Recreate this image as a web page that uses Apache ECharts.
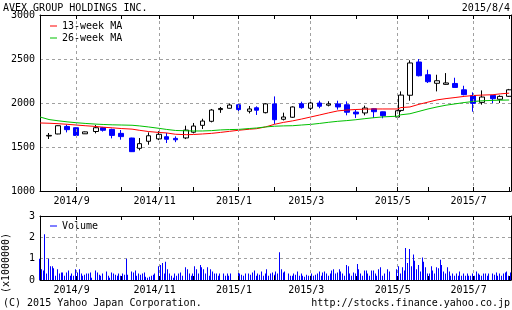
<!DOCTYPE html>
<html><head><meta charset="utf-8">
<script src="https://cdn.jsdelivr.net/npm/echarts@6/dist/echarts.min.js"></script>
<style>html,body{margin:0;padding:0;background:#fff}#c{width:512px;height:310px}</style>
</head><body><div id="c"></div>
<script>
// ---- data ----
const startDate = '2014-08-04';
const endDate = '2015-08-04';
const holidays = ['2014-09-15','2014-09-23','2014-10-13','2014-11-03','2014-11-24','2014-12-23','2014-12-31',
  '2015-01-01','2015-01-02','2015-01-12','2015-02-11','2015-04-29','2015-05-04','2015-05-05','2015-05-06','2015-07-20'];
const candleDates = ['2014-08-11','2014-08-18','2014-08-25','2014-09-01','2014-09-08','2014-09-16','2014-09-22','2014-09-29',
  '2014-10-06','2014-10-14','2014-10-20','2014-10-27','2014-11-04','2014-11-10','2014-11-17','2014-11-25','2014-12-01',
  '2014-12-08','2014-12-15','2014-12-22','2014-12-29','2015-01-05','2015-01-13','2015-01-19','2015-01-26','2015-02-02',
  '2015-02-09','2015-02-16','2015-02-23','2015-03-02','2015-03-09','2015-03-16','2015-03-23','2015-03-30','2015-04-06',
  '2015-04-13','2015-04-20','2015-04-27','2015-05-07','2015-05-11','2015-05-18','2015-05-25','2015-06-01','2015-06-08',
  '2015-06-15','2015-06-22','2015-06-29','2015-07-06','2015-07-13','2015-07-21','2015-07-27','2015-08-03'];
// [open, close, low, high]
const ohlc = [
  [1625,1632,1591,1659],[1648,1742,1645,1745],[1734,1697,1666,1753],[1719,1632,1630,1722],[1650,1672,1648,1676],
  [1676,1719,1655,1750],[1720,1690,1675,1728],[1700,1632,1598,1708],[1655,1618,1583,1693],[1602,1447,1443,1605],
  [1485,1538,1462,1602],[1565,1628,1526,1666],[1592,1644,1578,1680],[1617,1588,1545,1660],[1598,1582,1555,1621],
  [1603,1692,1590,1742],[1668,1738,1655,1773],[1746,1795,1705,1821],[1792,1920,1780,1932],[1925,1938,1888,1955],
  [1940,1977,1938,1995],[1980,1925,1893,1982],[1906,1932,1882,1966],[1946,1918,1864,1962],[1890,1990,1882,1998],
  [1990,1810,1762,2075],[1815,1841,1802,1890],[1838,1955,1830,1962],[1992,1947,1935,2015],[1940,2000,1920,2030],
  [2000,1963,1940,2026],[1975,1990,1962,2020],[1990,1955,1925,2026],[1980,1895,1860,2018],[1897,1876,1830,1924],
  [1887,1943,1860,1970],[1935,1901,1830,1938],[1900,1856,1826,1903],[1840,1912,1826,1924],[1916,2090,1900,2132],
  [2088,2455,2026,2485],[2466,2310,2302,2500],[2321,2242,2227,2378],[2224,2253,2132,2321],[2212,2228,2208,2340],
  [2222,2177,2175,2287],[2150,2095,2087,2196],[2083,1996,1901,2121],[2007,2068,1981,2143],[2087,2049,2000,2090],
  [2042,2075,2000,2087],[2076,2150,2070,2160]];
const maDates = ['2014-08-04'].concat(candleDates);
const ma13 = [1773,1770,1765,1758,1750,1742,1733,1725,1718,1710,1703,1690,1676,1665,1660,1645,1640,1642,1648,1655,
  1666,1678,1690,1702,1708,1728,1758,1780,1797,1818,1841,1864,1888,1910,1920,1926,1930,1932,1932,1932,1948,1955,
  1985,2010,2035,2050,2062,2075,2085,2090,2094,2104,2112];
const ma26 = [1841,1812,1798,1786,1776,1768,1760,1756,1752,1750,1747,1740,1728,1712,1700,1688,1684,1682,1682,1686,
  1694,1698,1700,1710,1716,1728,1736,1740,1742,1750,1757,1768,1781,1792,1800,1810,1822,1833,1842,1850,1866,1878,
  1905,1932,1955,1975,1990,2005,2017,2025,2030,2032,2034];
// daily volume (x1,000,000), grouped by week, trading days only
const volumeByWeek = [
  [1.0,0.5,0.45,2.15,0.3],[1.0,0.65,0.65,0.55,0.2],[0.5,0.3,0.35,0.35,0.2],[0.35,0.45,0.2,0.3,0.2],
  [0.5,0.35,0.5,0.3,0.2],[0.25,0.3,0.3,0.35,0.1],[0.45,0.35,0.25,0.2],[0.3,0.4,0.2,0.1,0.2],
  [0.35,0.3,0.25,0.2,0.3],[0.2,0.3,0.25,1.0,0.25],[0.4,0.35,0.45,0.2],[0.3,0.25,0.3,0.35,0.15],
  [0.1,0.15,0.2,0.25,0.3],[0.65,0.7,0.8,0.3],[0.85,0.5,0.3,0.2,0.1],[0.3,0.2,0.3,0.35,0.2],
  [0.6,0.5,0.3,0.2],[0.3,0.65,0.5,0.3,0.7],[0.6,0.5,0.3,0.6,0.2],[0.5,0.4,0.3,0.3,0.2],
  [0.3,0.3,0.2,0.3],[0.2,0.3],[0.35,0.3,0.25,0.2,0.3],[0.3,0.25,0.35,0.45],
  [0.2,0.3,0.25,0.4,0.2],[0.3,0.5,0.2,0.3,0.35],[0.25,0.4,0.3,1.3,0.5],[0.35,0.4,0.3,0.2],
  [0.2,0.3,0.25,0.4,0.2],[0.3,0.2,0.15,0.25,0.2],[0.2,0.3,0.2,0.25,0.3],[0.4,0.2,0.35,0.4,0.3],
  [0.2,0.3,0.45,0.5,0.3],[0.35,0.5,0.4,0.3,0.2],[0.7,0.65,0.3,0.2,0.35],[0.3,0.75,0.5,0.3,0.2],
  [0.45,0.45,0.3,0.2,0.45],[0.45,0.3,0.2,0.5,0.6],[0.2,0.3,0.5,0.4],[0.5,0.65],
  [0.3,0.6,0.45,1.5,0.8],[1.45,0.65,1.2,0.9,0.5],[0.7,0.4,1.05,0.85,0.6],[0.3,0.3,0.65,0.45,0.3],
  [0.6,0.55,0.95,0.7,0.4],[0.3,0.6,0.4,0.2,0.3],[0.2,0.3,0.2,0.4,0.2],[0.3,0.2,0.3,0.2,0.2],
  [0.3,0.2,0.4,0.3,0.25],[0.2,0.3,0.3,0.2,0.3],[0.3,0.25,0.35,0.2],[0.3,0.2,0.3,0.35,0.4],[0.2,0.35]];
const monthTickDates = ['2014-09-01','2014-10-06','2014-11-04','2014-12-01','2015-01-05','2015-02-02',
  '2015-03-02','2015-04-06','2015-05-07','2015-06-01','2015-07-06','2015-08-03'];
const monthTickLabels = ['2014/9','','2014/11','','2015/1','','2015/3','','2015/5','','2015/7',''];
const priceTicks = {min:1000, max:3000, interval:500};
const volTicks = {min:0, max:3, interval:1};

// ---- build ----
const DAY = 86400000;
const fmt = t => new Date(t).toISOString().slice(0,10);
const t0 = Date.parse(startDate + 'T00:00:00Z'), t1 = Date.parse(endDate + 'T00:00:00Z');
const categories = [];
for (let t = t0; t <= t1; t += DAY) { const wd = new Date(t).getUTCDay(); if (wd !== 0 && wd !== 6) categories.push(fmt(t)); }
const idx = {}; categories.forEach((c,i)=>idx[c]=i);
const hol = new Set(holidays);
const tickSet = new Set(monthTickDates);
const labelMap = {}; monthTickDates.forEach((d,i)=>{ if (monthTickLabels[i]) labelMap[d] = monthTickLabels[i]; });
const candleData = candleDates.map((d,i)=>[idx[d]].concat(ohlc[i]));
const ma13Data = maDates.map((d,i)=>[idx[d], ma13[i]]);
const ma26Data = maDates.map((d,i)=>[idx[d], ma26[i]]);
const volData = [];
volumeByWeek.forEach((vals,k)=>{
  const days = [];
  for (let j=0;j<5;j++){ const t = t0 + (7*k + j)*DAY; const s = fmt(t); if (t <= t1 && !hol.has(s)) days.push(s); }
  vals.forEach((v,j)=>{ if (days[j]) volData.push([idx[days[j]], v]); });
});

const FONT = '"DejaVu Sans Mono", "Liberation Mono", monospace';
const dash = {show:true, interval:(i,v)=>!!labelMap[v], lineStyle:{color:'#a0a0a0', type:[3,3], width:1}};
const tick = {show:true, inside:true, length:4, interval:(i,v)=>tickSet.has(v), lineStyle:{color:'#000'}};
const mkX = (grid, pos, withLabel) => ({
  type:'category', gridIndex:grid, position:pos, data:categories, boundaryGap:false, z:5,
  axisLine:{show:true, onZero:false, lineStyle:{color:'#000', width:1}},
  axisTick:tick,
  axisLabel: withLabel ? {show:true, interval:(i,v)=>!!labelMap[v], formatter:v=>labelMap[v]||'', color:'#000',
    fontFamily:FONT, fontSize:10, margin:5, padding:[0,9,0,0]} : {show:false},
  splitLine: withLabel ? dash : {show:false}
});
const mkY = (grid, pos, rng, main) => ({
  type:'value', gridIndex:grid, position:pos, min:rng.min, max:rng.max, interval:rng.interval, z: main?1:5,
  axisLine:{show:true, lineStyle:{color:'#000', width:1}}, axisTick:{show:false},
  axisLabel: main ? {show:true, color:'#000', fontFamily:FONT, fontSize:10, margin:5, formatter:v=>String(v)} : {show:false},
  splitLine: main ? {show:true, lineStyle:{color:'#a0a0a0', type:[3,3], width:1}} : {show:false}
});

const chart = echarts.init(document.getElementById('c'), null, {renderer:'canvas'});
chart.setOption({
  animation:false,
  backgroundColor:'#fff',
  grid:[{left:40, right:1, top:15, height:176}, {left:40, right:1, top:216, height:64}],
  xAxis:[mkX(0,'bottom',true), mkX(0,'top',false), mkX(1,'bottom',true), mkX(1,'top',false)],
  yAxis:[mkY(0,'left',priceTicks,true), mkY(0,'right',priceTicks,false), mkY(1,'left',volTicks,true), mkY(1,'right',volTicks,false)],
  legend:[
    {data:['13-week MA','26-week MA'], orient:'vertical', left:45, top:15, itemWidth:7, itemHeight:1, itemGap:0,
      icon:'rect', selectedMode:false, textStyle:{color:'#000', fontFamily:FONT, fontSize:10, lineHeight:12}},
    {data:['Volume'], orient:'vertical', left:45, top:215, itemWidth:7, itemHeight:1, itemGap:0,
      icon:'rect', selectedMode:false, textStyle:{color:'#000', fontFamily:FONT, fontSize:10, lineHeight:12}}
  ],
  series:[
    {name:'13-week MA', type:'line', xAxisIndex:0, yAxisIndex:0, data:ma13Data, showSymbol:false, symbol:'none',
      lineStyle:{color:'#ff0000', width:1}, itemStyle:{color:'#ff0000'}},
    {name:'26-week MA', type:'line', xAxisIndex:0, yAxisIndex:0, data:ma26Data, showSymbol:false, symbol:'none',
      lineStyle:{color:'#00c000', width:1}, itemStyle:{color:'#00c000'}},
    {name:'Price', type:'candlestick', xAxisIndex:0, yAxisIndex:0, data:candleData, encode:{x:0, y:[1,2,3,4]},
      barWidth:5, itemStyle:{color:'#ffffff', color0:'#0000ff', borderColor:'#000000', borderColor0:'#0000ff', borderWidth:1}},
    {name:'Volume', type:'custom', xAxisIndex:2, yAxisIndex:2, data:volData, encode:{x:0, y:1},
      itemStyle:{color:'#0000ff'},
      renderItem:(params, api)=>{
        const top = api.coord([api.value(0), api.value(1)]);
        const base = api.coord([api.value(0), 0]);
        return {type:'rect', shape:{x:Math.round(top[0]) - 1, y:top[1], width:1, height:base[1]-top[1]},
          style:{fill:'#0000ff'}};
      }}
  ],
  graphic:[
    {type:'text', x:3, y:8, style:{text:'AVEX GROUP HOLDINGS INC.', font:'10px '+FONT, fill:'#000', align:'left', verticalAlign:'middle'}},
    {type:'text', x:510, y:8, style:{text:'2015/8/4', font:'10px '+FONT, fill:'#000', align:'right', verticalAlign:'middle'}},
    {type:'text', x:3, y:303, style:{text:'(C) 2015 Yahoo Japan Corporation.', font:'10px '+FONT, fill:'#000', align:'left', verticalAlign:'middle'}},
    {type:'text', x:510, y:303, style:{text:'http://stocks.finance.yahoo.co.jp', font:'10px '+FONT, fill:'#000', align:'right', verticalAlign:'middle'}},
    {type:'text', x:6, y:263, rotation:Math.PI/2, style:{text:'(x1000000)', font:'10px '+FONT, fill:'#000', align:'center', verticalAlign:'middle'}}
  ]
});
</script></body></html>
